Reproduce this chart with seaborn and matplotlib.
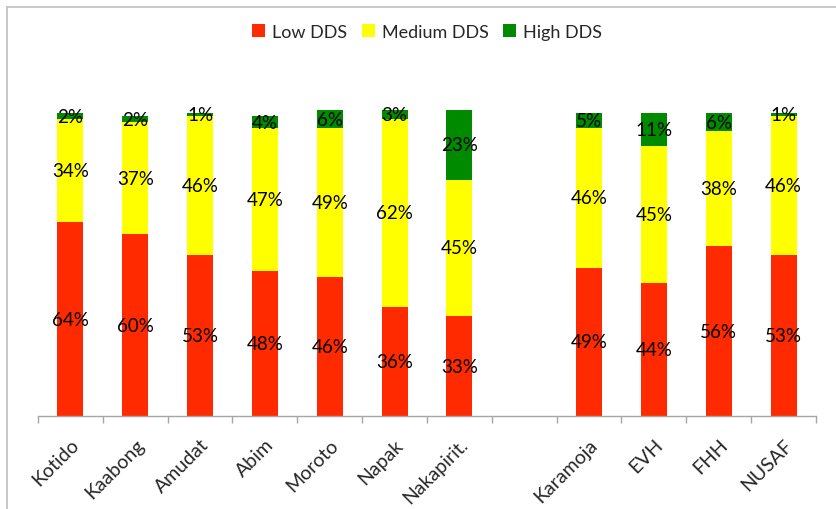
import matplotlib
matplotlib.use("Agg")
import matplotlib.pyplot as plt
import seaborn as sns
import pandas as pd
import numpy as np
from matplotlib.patches import Patch
from matplotlib.lines import Line2D

# Dietary diversity score shares (%) by area / group
categories = ["Kotido", "Kaabong", "Amudat", "Abim", "Moroto", "Napak", "Nakapirit.",
              "Karamoja", "EVH", "FHH", "NUSAF"]
low = [64, 60, 53, 48, 46, 36, 33, 49, 44, 56, 53]
medium = [34, 37, 46, 47, 49, 62, 45, 46, 45, 38, 46]
high = [2, 2, 1, 4, 6, 3, 23, 5, 11, 6, 1]
series_names = ["Low DDS", "Medium DDS", "High DDS"]
colors = ["#FF2A00", "#FFFF00", "#008A00"]

# districts, an empty spacer slot, then the aggregate groups
spacer = " "
slot_order = categories[:7] + [spacer] + categories[7:]

df = pd.DataFrame({"area": categories, "low": low, "medium": medium, "high": high})
df["low_med"] = df["low"] + df["medium"]
df["total"] = df["low_med"] + df["high"]

sns.set_theme(style="white")
plt.rcParams["font.family"] = ["Lato", "DejaVu Sans"]

W, H = 836, 510
fig = plt.figure(figsize=(W / 100, H / 100), dpi=100)
ax = fig.add_axes([38 / W, (H - 417) / H, (816 - 38) / W, (417 - 114) / H])

# stacked bars drawn as overlapping cumulative heights (tallest first)
for col, color in zip(["total", "low_med", "low"], colors[::-1]):
    sns.barplot(data=df, x="area", y=col, order=slot_order, color=color,
                width=0.4, saturation=1, errorbar=None, linewidth=0, ax=ax)
for p in ax.patches:
    p.set_clip_on(False)

ax.set_ylim(0, 100)
ax.set_xlim(-0.5, len(slot_order) - 0.5)

# value labels centred in each segment
for _, row in df.iterrows():
    x = slot_order.index(row["area"])
    base = 0
    for v in (row["low"], row["medium"], row["high"]):
        ax.text(x, base + v / 2, f"{v}%", ha="center", va="center",
                fontsize=13.5, color="black", clip_on=False)
        base += v

ax.set_xlabel("")
ax.set_ylabel("")
ax.set_yticks([])
ax.set_xticks(range(len(slot_order)))
ax.set_xticklabels(slot_order, rotation=45, ha="right", rotation_mode="anchor",
                   fontsize=14)
ax.set_xticks(np.arange(-0.5, len(slot_order), 1), minor=True)
ax.tick_params(axis="x", which="major", length=0, pad=14)
ax.tick_params(axis="x", which="minor", length=5, width=1, color="#A6A6A6",
               direction="out", bottom=True)
for side in ("left", "top", "right"):
    ax.spines[side].set_visible(False)
ax.spines["bottom"].set_color("#A6A6A6")
ax.spines["bottom"].set_linewidth(1)

handles = [Patch(facecolor=c, edgecolor="none") for c in colors]
fig.legend(handles, series_names, loc="center", bbox_to_anchor=(0.511, 1 - 33 / H),
           ncol=3, frameon=False, fontsize=13, handlelength=0.7, handleheight=0.75,
           handletextpad=0.4, columnspacing=0.8)

# chart area border
border = "#BFBFBF"
fig.add_artist(Line2D([7 / W, 1], [1 - 8 / H, 1 - 8 / H], transform=fig.transFigure,
                      color=border, lw=1.2))
fig.add_artist(Line2D([7 / W, 7 / W], [0, 1 - 8 / H], transform=fig.transFigure,
                      color=border, lw=1.2))

fig.savefig("out.png", dpi=100)
